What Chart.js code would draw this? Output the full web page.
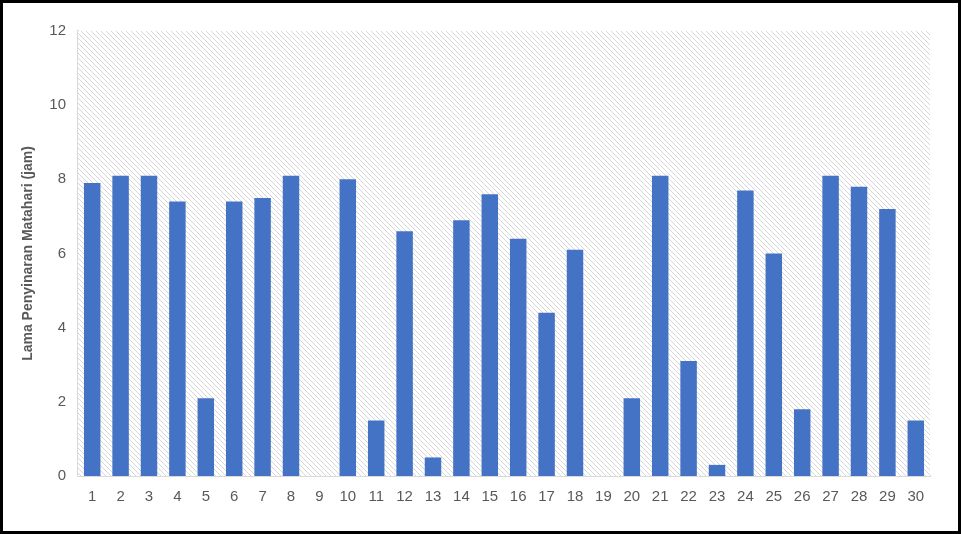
<!DOCTYPE html>
<html>
<head>
<meta charset="utf-8">
<script src="https://cdn.jsdelivr.net/npm/chart.js@4"></script>
<style>
  html, body { margin: 0; padding: 0; background: #fff; }
  #frame {
    width: 961px; height: 534px; box-sizing: border-box;
    border: 3px solid #000; background: #fff; position: relative;
  }
  #wrap { width: 955px; height: 528px; }
</style>
</head>
<body>
<div id="frame"><div id="wrap"><canvas id="chart"></canvas></div></div>
<script>
// tanggal (hari ke-)
const days = ['1','2','3','4','5','6','7','8','9','10','11','12','13','14','15',
  '16','17','18','19','20','21','22','23','24','25','26','27','28','29','30'];
// lama penyinaran matahari (jam)
const sunHours = [7.9, 8.1, 8.1, 7.4, 2.1, 7.4, 7.5, 8.1, 0, 8.0, 1.5, 6.6, 0.5, 6.9, 7.6,
  6.4, 4.4, 6.1, 0, 2.1, 8.1, 3.1, 0.3, 7.7, 6.0, 1.8, 8.1, 7.8, 7.2, 1.5];
const yTicks = [0, 2, 4, 6, 8, 10, 12];
const yTitle = 'Lama Penyinaran Matahari (jam)';

// pola arsir diagonal untuk area plot
function makeHatch() {
  const n = 5;
  const c = document.createElement('canvas');
  c.width = n; c.height = n;
  const g = c.getContext('2d');
  const img = g.createImageData(n, n);
  for (let y = 0; y < n; y++) {
    for (let x = 0; x < n; x++) {
      const d = ((x - y) % n + n) % n;
      const i = (y * n + x) * 4;
      const v = d === 0 ? 214 : 255;
      img.data[i] = v; img.data[i + 1] = v; img.data[i + 2] = v; img.data[i + 3] = 255;
    }
  }
  g.putImageData(img, 0, 0);
  return c;
}

const hatchPlugin = {
  id: 'hatch',
  beforeDatasetsDraw(chart) {
    const { ctx, chartArea: a } = chart;
    ctx.save();
    ctx.fillStyle = ctx.createPattern(makeHatch(), 'repeat');
    ctx.fillRect(a.left, a.top, a.right - a.left, a.bottom - a.top);
    ctx.restore();
  }
};

const font = { family: 'Liberation Sans, Arial, sans-serif', size: 15 };

new Chart(document.getElementById('chart'), {
  type: 'bar',
  data: {
    labels: days,
    datasets: [{
      data: sunHours,
      backgroundColor: '#4472C4',
      barPercentage: 1,
      categoryPercentage: 0.58
    }]
  },
  options: {
    responsive: true,
    maintainAspectRatio: false,
    animation: false,
    layout: { padding: { top: 28, right: 28, left: 0, bottom: 0 } },
    plugins: { legend: { display: false }, tooltip: { enabled: false } },
    scales: {
      x: {
        grid: { display: false, drawTicks: false },
        border: { display: true, color: '#d9d9d9', width: 2 },
        ticks: { color: '#595959', font: font, padding: 12, maxRotation: 0, autoSkip: false },
        afterFit(s) { s.height = 55; }
      },
      y: {
        min: 0, max: 12,
        afterBuildTicks(s) { s.ticks = yTicks.map(v => ({ value: v })); },
        grid: { display: false, drawTicks: false },
        border: { display: true, color: '#d9d9d9', width: 2 },
        ticks: { color: '#595959', font: font, padding: 12 },
        title: {
          display: true, text: yTitle, color: '#595959',
          font: { family: font.family, size: 14, weight: 'bold' },
          padding: { top: 17, bottom: 0 }
        },
        afterFit(s) { s.width = 75; }
      }
    }
  },
  plugins: [hatchPlugin]
});
</script>
</body>
</html>
